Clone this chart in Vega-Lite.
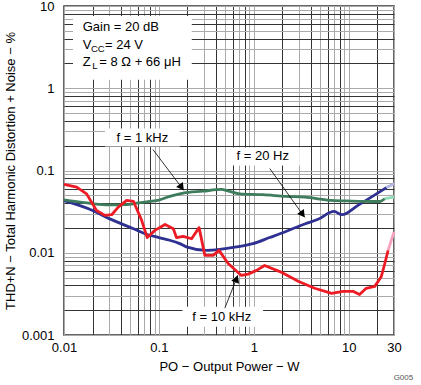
{
  "$schema": "https://vega.github.io/schema/vega-lite/v6.json",
  "width": 330,
  "height": 329,
  "autosize": {"type": "none"},
  "padding": {"left": 64, "top": 6, "right": 27, "bottom": 50},
  "config": {
    "font": "Liberation Sans",
    "view": {"stroke": "#333333", "strokeWidth": 1.5},
    "axis": {
      "labelFont": "Liberation Sans",
      "titleFont": "Liberation Sans",
      "labelFontSize": 13,
      "titleFontSize": 13,
      "labelColor": "#000000",
      "titleColor": "#000000",
      "titleFontWeight": "normal",
      "ticks": false,
      "tickSize": 0,
      "domain": false,
      "grid": true,
      "gridOpacity": 1,
      "gridWidth": 1,
      "labelFlush": false,
      "labelOverlap": false,
      "labelBound": false
    }
  },
  "title": {"text": "G005", "orient": "bottom", "anchor": "end", "fontSize": 8, "fontWeight": "normal", "color": "#555555", "font": "Liberation Sans", "dx": 12, "offset": 1},
  "datasets": {
    "curves": [
      {"part": "10 kHz", "P": 0.01, "thd": 0.0676},
      {"part": "10 kHz", "P": 0.0136, "thd": 0.0628},
      {"part": "10 kHz", "P": 0.0173, "thd": 0.052},
      {"part": "10 kHz", "P": 0.022, "thd": 0.0327},
      {"part": "10 kHz", "P": 0.027, "thd": 0.0285},
      {"part": "10 kHz", "P": 0.0318, "thd": 0.029},
      {"part": "10 kHz", "P": 0.0373, "thd": 0.0359},
      {"part": "10 kHz", "P": 0.0457, "thd": 0.0433},
      {"part": "10 kHz", "P": 0.054, "thd": 0.042},
      {"part": "10 kHz", "P": 0.0658, "thd": 0.0248},
      {"part": "10 kHz", "P": 0.0753, "thd": 0.0153},
      {"part": "10 kHz", "P": 0.0908, "thd": 0.0187},
      {"part": "10 kHz", "P": 0.116, "thd": 0.0221},
      {"part": "10 kHz", "P": 0.142, "thd": 0.0196},
      {"part": "10 kHz", "P": 0.153, "thd": 0.0153},
      {"part": "10 kHz", "P": 0.18, "thd": 0.0158},
      {"part": "10 kHz", "P": 0.221, "thd": 0.0148},
      {"part": "10 kHz", "P": 0.265, "thd": 0.0202},
      {"part": "10 kHz", "P": 0.305, "thd": 0.0093},
      {"part": "10 kHz", "P": 0.373, "thd": 0.0093},
      {"part": "10 kHz", "P": 0.43, "thd": 0.0107},
      {"part": "10 kHz", "P": 0.537, "thd": 0.0074},
      {"part": "10 kHz", "P": 0.74, "thd": 0.0053},
      {"part": "10 kHz", "P": 0.87, "thd": 0.0055},
      {"part": "10 kHz", "P": 1.07, "thd": 0.0061},
      {"part": "10 kHz", "P": 1.3, "thd": 0.007},
      {"part": "10 kHz", "P": 1.88, "thd": 0.0059},
      {"part": "10 kHz", "P": 2.4, "thd": 0.0051},
      {"part": "10 kHz", "P": 2.93, "thd": 0.0045},
      {"part": "10 kHz", "P": 4.38, "thd": 0.0037},
      {"part": "10 kHz", "P": 6.6, "thd": 0.0032},
      {"part": "10 kHz", "P": 8.7, "thd": 0.0034},
      {"part": "10 kHz", "P": 11.1, "thd": 0.0034},
      {"part": "10 kHz", "P": 13, "thd": 0.0031},
      {"part": "10 kHz", "P": 15.3, "thd": 0.0037},
      {"part": "10 kHz", "P": 18.8, "thd": 0.0039},
      {"part": "10 kHz", "P": 22, "thd": 0.0051},
      {"part": "10 kHz", "P": 24, "thd": 0.0074},
      {"part": "10 kHz", "P": 26, "thd": 0.0107},
      {"part": "10 kHz fade", "P": 26, "thd": 0.0107},
      {"part": "10 kHz fade", "P": 30, "thd": 0.0179},
      {"part": "20 Hz", "P": 0.01, "thd": 0.043},
      {"part": "20 Hz", "P": 0.02, "thd": 0.0327},
      {"part": "20 Hz", "P": 0.03, "thd": 0.026},
      {"part": "20 Hz", "P": 0.054, "thd": 0.0196},
      {"part": "20 Hz", "P": 0.074, "thd": 0.0168},
      {"part": "20 Hz", "P": 0.1, "thd": 0.0153},
      {"part": "20 Hz", "P": 0.13, "thd": 0.0142},
      {"part": "20 Hz", "P": 0.166, "thd": 0.0129},
      {"part": "20 Hz", "P": 0.195, "thd": 0.0118},
      {"part": "20 Hz", "P": 0.317, "thd": 0.0107},
      {"part": "20 Hz", "P": 0.44, "thd": 0.011},
      {"part": "20 Hz", "P": 0.66, "thd": 0.0118},
      {"part": "20 Hz", "P": 0.98, "thd": 0.0129},
      {"part": "20 Hz", "P": 1.47, "thd": 0.0153},
      {"part": "20 Hz", "P": 2.12, "thd": 0.0179},
      {"part": "20 Hz", "P": 3.44, "thd": 0.0224},
      {"part": "20 Hz", "P": 4.75, "thd": 0.0255},
      {"part": "20 Hz", "P": 7.0, "thd": 0.0318},
      {"part": "20 Hz", "P": 8.5, "thd": 0.029},
      {"part": "20 Hz", "P": 12.5, "thd": 0.0377},
      {"part": "20 Hz", "P": 25, "thd": 0.062},
      {"part": "20 Hz fade", "P": 25, "thd": 0.062},
      {"part": "20 Hz fade", "P": 30, "thd": 0.069},
      {"part": "1 kHz", "P": 0.01, "thd": 0.044},
      {"part": "1 kHz", "P": 0.013, "thd": 0.042},
      {"part": "1 kHz", "P": 0.02, "thd": 0.0395},
      {"part": "1 kHz", "P": 0.03, "thd": 0.0383},
      {"part": "1 kHz", "P": 0.046, "thd": 0.0385},
      {"part": "1 kHz", "P": 0.058, "thd": 0.04},
      {"part": "1 kHz", "P": 0.08, "thd": 0.042},
      {"part": "1 kHz", "P": 0.1, "thd": 0.0437},
      {"part": "1 kHz", "P": 0.13, "thd": 0.0484},
      {"part": "1 kHz", "P": 0.18, "thd": 0.053},
      {"part": "1 kHz", "P": 0.29, "thd": 0.056},
      {"part": "1 kHz", "P": 0.46, "thd": 0.0589},
      {"part": "1 kHz", "P": 0.52, "thd": 0.057},
      {"part": "1 kHz", "P": 0.71, "thd": 0.052},
      {"part": "1 kHz", "P": 1.25, "thd": 0.0508},
      {"part": "1 kHz", "P": 2.2, "thd": 0.0484},
      {"part": "1 kHz", "P": 3.44, "thd": 0.0474},
      {"part": "1 kHz", "P": 6.6, "thd": 0.0433},
      {"part": "1 kHz", "P": 10.7, "thd": 0.0425},
      {"part": "1 kHz", "P": 21.2, "thd": 0.042},
      {"part": "1 kHz", "P": 24, "thd": 0.0454},
      {"part": "1 kHz fade", "P": 24, "thd": 0.0454},
      {"part": "1 kHz fade", "P": 30, "thd": 0.0474}
    ],
    "boxes": [
      {"P": 0.01244, "P2": 0.222, "thd": 7.57, "thd2": 1.27},
      {"P": 0.027, "P2": 0.166, "thd": 0.323, "thd2": 0.1955},
      {"P": 0.52, "P2": 3.05, "thd": 0.191, "thd2": 0.115},
      {"P": 0.1774, "P2": 1.253, "thd": 0.0022, "thd2": 0.00126}
    ],
    "info": [
      {"P": 0.01574, "thd": 4.98, "text": "Gain = 20 dB"},
      {"P": 0.01574, "thd": 3.01, "text": "V"},
      {"P": 0.02704, "thd": 3.01, "text": "= 24 V"},
      {"P": 0.01574, "thd": 1.875, "text": "Z"},
      {"P": 0.02354, "thd": 1.875, "text": "= 8 Ω + 66 μH"}
    ],
    "subs": [
      {"P": 0.01924, "thd": 3.01, "text": "CC"},
      {"P": 0.01987, "thd": 1.875, "text": "L"}
    ],
    "labels": [
      {"P": 0.067, "thd": 0.251, "text": "f = 1 kHz"},
      {"P": 1.244, "thd": 0.15, "text": "f = 20 Hz"},
      {"P": 0.46, "thd": 0.001675, "text": "f = 10 kHz"}
    ],
    "arrows": [
      {"P": 0.0865, "thd": 0.18, "P2": 0.183, "thd2": 0.0573},
      {"P": 1.473, "thd": 0.1057, "P2": 3.44, "thd2": 0.0269},
      {"P": 0.495, "thd": 0.00212, "P2": 0.679, "thd2": 0.00533}
    ],
    "head1k": [{"P": 0.1706, "thd": 0.064}],
    "head20": [{"P": 3.21, "thd": 0.0301}],
    "head10k": [{"P": 0.65, "thd": 0.00468}]
  },
  "encoding": {
    "x": {
      "field": "P",
      "type": "quantitative",
      "scale": {"type": "log", "domain": [0.01, 30]},
      "axis": {
        "title": "PO − Output Power − W",
        "values": [0.01, 0.02, 0.03, 0.04, 0.05, 0.06, 0.07, 0.08, 0.09, 0.1, 0.2, 0.3, 0.4, 0.5, 0.6, 0.7, 0.8, 0.9, 1, 2, 3, 4, 5, 6, 7, 8, 9, 10, 20, 30],
        "format": "~g",
        "labelExpr": "indexof([0.01, 0.1, 1, 10, 30], datum.value) >= 0 ? datum.label : ''",
        "labelPadding": 6,
        "titlePadding": 6,
        "gridColor": {"condition": {"test": "round(datum.value / pow(10, floor(log(datum.value) / LN10 + 0.000001))) % 2 == 0", "value": "#333333"}, "value": "#aaaaaa"}
      }
    },
    "y": {
      "field": "thd",
      "type": "quantitative",
      "scale": {"type": "log", "domain": [0.001, 10]},
      "axis": {
        "title": "THD+N − Total Harmonic Distortion + Noise − %",
        "values": [0.001, 0.002, 0.003, 0.004, 0.005, 0.006, 0.007, 0.008, 0.009, 0.01, 0.02, 0.03, 0.04, 0.05, 0.06, 0.07, 0.08, 0.09, 0.1, 0.2, 0.3, 0.4, 0.5, 0.6, 0.7, 0.8, 0.9, 1, 2, 3, 4, 5, 6, 7, 8, 9, 10],
        "format": "~g",
        "labelExpr": "indexof([0.001, 0.01, 0.1, 1, 10], datum.value) >= 0 ? datum.label : ''",
        "labelPadding": 10,
        "titlePadding": 4,
        "gridColor": {"condition": {"test": "round(datum.value / pow(10, floor(log(datum.value) / LN10 + 0.000001))) % 2 == 0", "value": "#333333"}, "value": "#aaaaaa"}
      }
    }
  },
  "layer": [
    {
      "data": {"name": "boxes"},
      "mark": {"type": "rect", "fill": "#ffffff", "stroke": null},
      "encoding": {"x2": {"field": "P2"}, "y2": {"field": "thd2"}}
    },
    {
      "data": {"name": "info"},
      "mark": {"type": "text", "align": "left", "baseline": "alphabetic", "fontSize": 13, "font": "Liberation Sans", "color": "#000000"},
      "encoding": {"text": {"field": "text"}}
    },
    {
      "data": {"name": "subs"},
      "mark": {"type": "text", "align": "left", "baseline": "alphabetic", "fontSize": 9.5, "dy": 3, "font": "Liberation Sans", "color": "#000000"},
      "encoding": {"text": {"field": "text"}}
    },
    {
      "data": {"name": "labels"},
      "mark": {"type": "text", "align": "center", "baseline": "middle", "fontSize": 13, "font": "Liberation Sans", "color": "#000000"},
      "encoding": {"text": {"field": "text"}}
    },
    {
      "data": {"name": "curves"},
      "transform": [{"filter": "datum.part != '10 kHz'"}],
      "mark": {"type": "line", "strokeWidth": 2.8, "interpolate": "monotone"},
      "encoding": {
        "color": {"field": "part", "type": "nominal", "scale": {"domain": ["10 kHz", "10 kHz fade", "20 Hz", "20 Hz fade", "1 kHz", "1 kHz fade"], "range": ["#ed1c24", "#f5a3bd", "#2e3191", "#b3b7e3", "#3d7c5c", "#90dcb5"]}, "legend": null}
      }
    },
    {
      "data": {"name": "curves"},
      "transform": [{"filter": "datum.part == '10 kHz'"}],
      "mark": {"type": "line", "strokeWidth": 2.8, "strokeJoin": "round"},
      "encoding": {
        "color": {"field": "part", "type": "nominal", "legend": null}
      }
    },
    {
      "data": {"name": "arrows"},
      "mark": {"type": "rule", "color": "#000000", "strokeWidth": 0.8},
      "encoding": {"x2": {"field": "P2"}, "y2": {"field": "thd2"}}
    },
    {
      "data": {"name": "head1k"},
      "mark": {"type": "point", "shape": "triangle", "filled": true, "color": "#000000", "opacity": 1, "size": 70, "angle": 143},
      "encoding": {}
    },
    {
      "data": {"name": "head20"},
      "mark": {"type": "point", "shape": "triangle", "filled": true, "color": "#000000", "opacity": 1, "size": 70, "angle": 144},
      "encoding": {}
    },
    {
      "data": {"name": "head10k"},
      "mark": {"type": "point", "shape": "triangle", "filled": true, "color": "#000000", "opacity": 1, "size": 70, "angle": 21}
    }
  ]
}
